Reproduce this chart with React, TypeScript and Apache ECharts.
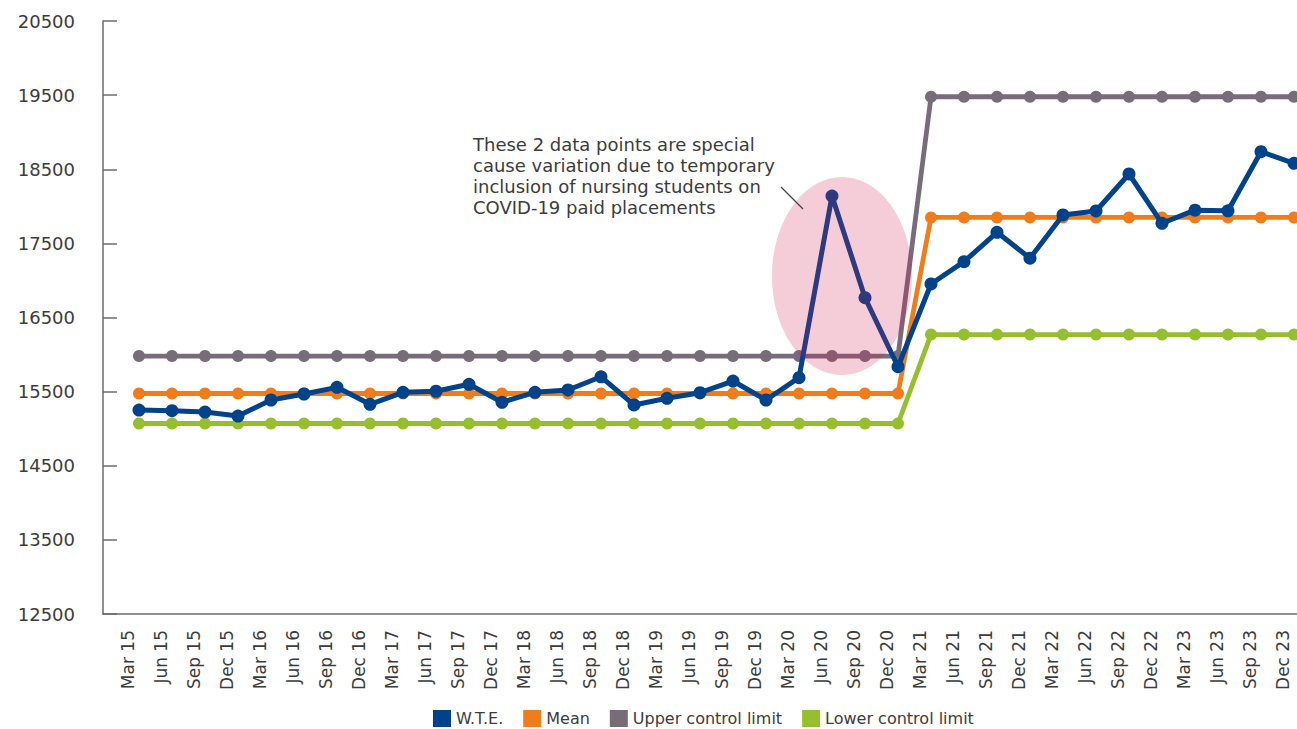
import React, { useEffect, useRef } from "react";
import * as echarts from "echarts";

const categories = [
  "Mar 15", "Jun 15", "Sep 15", "Dec 15",
  "Mar 16", "Jun 16", "Sep 16", "Dec 16",
  "Mar 17", "Jun 17", "Sep 17", "Dec 17",
  "Mar 18", "Jun 18", "Sep 18", "Dec 18",
  "Mar 19", "Jun 19", "Sep 19", "Dec 19",
  "Mar 20", "Jun 20", "Sep 20", "Dec 20",
  "Mar 21", "Jun 21", "Sep 21", "Dec 21",
  "Mar 22", "Jun 22", "Sep 22", "Dec 22",
  "Mar 23", "Jun 23", "Sep 23", "Dec 23",
];

const wte = [
  15252, 15243, 15225, 15171,
  15387, 15468, 15558, 15329,
  15491, 15505, 15599, 15356,
  15491, 15522, 15700, 15320,
  15410, 15486, 15643, 15387,
  15688, 18139, 16767, 15836,
  16952, 17253, 17649, 17300,
  17883, 17937, 18436, 17771,
  17948, 17940, 18737, 18580,
];

const mean = [
  15475, 15475, 15475, 15475, 15475, 15475, 15475, 15475,
  15475, 15475, 15475, 15475, 15475, 15475, 15475, 15475,
  15475, 15475, 15475, 15475, 15475, 15475, 15475, 15475,
  17850, 17850, 17850, 17850, 17850, 17850,
  17850, 17850, 17850, 17850, 17850, 17850,
];

const upper = [
  15980, 15980, 15980, 15980, 15980, 15980, 15980, 15980,
  15980, 15980, 15980, 15980, 15980, 15980, 15980, 15980,
  15980, 15980, 15980, 15980, 15980, 15980, 15980, 15980,
  19478, 19478, 19478, 19478, 19478, 19478,
  19478, 19478, 19478, 19478, 19478, 19478,
];

const lower = [
  15070, 15070, 15070, 15070, 15070, 15070, 15070, 15070,
  15070, 15070, 15070, 15070, 15070, 15070, 15070, 15070,
  15070, 15070, 15070, 15070, 15070, 15070, 15070, 15070,
  16270, 16270, 16270, 16270, 16270, 16270,
  16270, 16270, 16270, 16270, 16270, 16270,
];

const yMin = 12500;
const yMax = 20500;
const yStep = 1000;

const annotation = [
  "These 2 data points are special",
  "cause variation due to temporary",
  "inclusion of nursing students on",
  "COVID-19 paid placements",
];

const FONT = "DejaVu Sans";
const TEXT = "#3c3c3c";
const AXIS = "#6d6d6d";

const colors = {
  wte: "#00438a",
  mean: "#f07c1b",
  upper: "#786b7a",
  lower: "#96bf2e",
};

const toPairs = (arr: number[]) => arr.map((v, i) => [i, v]);

export default function App() {
  const ref = useRef<HTMLDivElement>(null);

  useEffect(() => {
    if (!ref.current) return;
    const chart = echarts.init(ref.current, undefined, { renderer: "svg" });
    const step = 33;
    const gridLeft = 103;
    const gridWidth = 1194;
    const firstX = 139;
    const xMin = -(firstX - gridLeft) / step;
    const xMax = xMin + gridWidth / step;

    const lineSeries = (name: string, data: number[], color: string, z: number, w: number, size: number) => ({
      name,
      type: "line",
      xAxisIndex: 0,
      yAxisIndex: 0,
      data: toPairs(data),
      symbol: "circle",
      symbolSize: size,
      showSymbol: true,
      z,
      itemStyle: { color },
      lineStyle: { color, width: w },
      emphasis: { disabled: true },
    });

    chart.setOption({
      animation: false,
      grid: [
        { left: gridLeft, right: 0, top: 21, bottom: 115, containLabel: false },
        { left: 128, right: 14, top: 21, bottom: 115, containLabel: false },
      ],
      legend: {
        data: ["W.T.E.", "Mean", "Upper control limit", "Lower control limit"],
        icon: "rect",
        itemWidth: 18,
        itemHeight: 17,
        itemGap: 20,
        left: 428,
        top: 705,
        textStyle: { fontFamily: FONT, fontSize: 16, color: TEXT },
      },
      xAxis: [
        {
          type: "value",
          gridIndex: 0,
          min: xMin,
          max: xMax,
          axisLine: { show: true, onZero: false, lineStyle: { color: AXIS, width: 1.5 } },
          axisTick: { show: false },
          axisLabel: { show: false },
          splitLine: { show: false },
        },
        {
          type: "category",
          gridIndex: 1,
          data: categories,
          boundaryGap: false,
          axisLine: { show: false },
          axisTick: { show: false },
          splitLine: { show: false },
          axisLabel: {
            interval: 0,
            rotate: 90,
            margin: 16,
            fontFamily: FONT,
            fontSize: 17,
            color: TEXT,
          },
        },
      ],
      yAxis: [
        {
          type: "value",
          gridIndex: 0,
          min: yMin,
          max: yMax,
          interval: yStep,
          axisLine: { show: true, onZero: false, lineStyle: { color: AXIS, width: 1.5 } },
          axisTick: { show: true, inside: true, length: 14, lineStyle: { color: AXIS, width: 1.5 } },
          axisLabel: {
            margin: 28,
            fontFamily: FONT,
            fontSize: 18,
            color: TEXT,
            formatter: (v: number) => String(v),
          },
          splitLine: { show: false },
        },
        { type: "value", gridIndex: 1, show: false },
      ],
      series: [
        lineSeries("Lower control limit", lower, colors.lower, 2, 4.8, 12),
        lineSeries("Upper control limit", upper, colors.upper, 2, 4.8, 12),
        lineSeries("Mean", mean, colors.mean, 3, 4.8, 12),
        lineSeries("W.T.E.", wte, colors.wte, 4, 5, 13),
      ],
      graphic: [
        {
          type: "ellipse",
          z: 100,
          shape: { cx: 842, cy: 276, rx: 70, ry: 99 },
          style: { fill: "rgba(209,27,82,0.22)" },
        },
        {
          type: "line",
          z: 100,
          shape: { x1: 781, y1: 187, x2: 803, y2: 209 },
          style: { stroke: "#444", lineWidth: 1.2 },
        },
        {
          type: "text",
          z: 100,
          x: 473,
          y: 134,
          style: {
            text: annotation.join("\n"),
            fontFamily: FONT,
            fontSize: 18,
            lineHeight: 21,
            fill: TEXT,
            textVerticalAlign: "top",
            verticalAlign: "top",
          },
        },
      ],
    });

    return () => chart.dispose();
  }, []);

  return (
    <div
      ref={ref}
      style={{ position: "absolute", left: 0, top: 0, width: 1297, height: 729, background: "#fff" }}
    />
  );
}
